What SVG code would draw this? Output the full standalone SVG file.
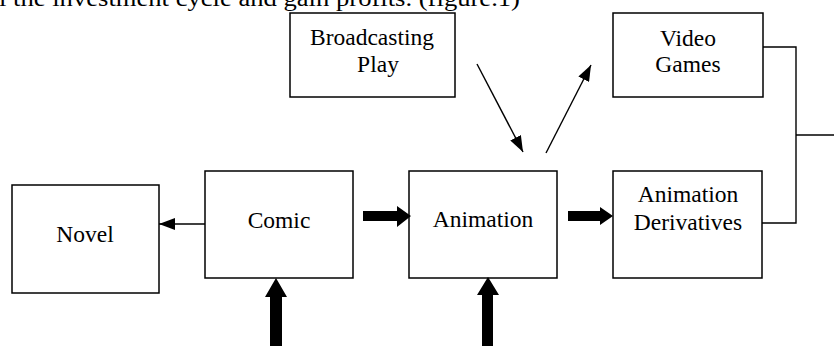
<svg xmlns="http://www.w3.org/2000/svg" width="834" height="346" viewBox="0 0 834 346">
<style>
.box{fill:#fff;stroke:#000;stroke-width:1.5}
.t{font-family:"Liberation Serif","Times New Roman",serif;font-size:23.5px;fill:#000;text-anchor:middle}
.ln{fill:none;stroke:#000;stroke-width:1.4}
.fill{fill:#000;stroke:none}
</style>
<defs>
<marker id="ah" viewBox="0 0 16 12" refX="16" refY="6" markerWidth="16" markerHeight="12" markerUnits="userSpaceOnUse" orient="auto">
<path d="M0,0 L16,6 L0,12 Z" fill="#000"/>
</marker>
</defs>
<rect width="834" height="346" fill="#fff"/>
<text x="-1" y="6" style="font-family:'Liberation Serif','Times New Roman',serif;font-size:23.5px" textLength="521" lengthAdjust="spacingAndGlyphs">l the investment cycle and gain profits. (figure.1)</text>

<g id="broadcasting">
<rect class="box" x="290" y="13" width="165" height="84"/>
<text class="t" x="372" y="45">Broadcasting</text>
<text class="t" x="378" y="72">Play</text>
</g>
<g id="videogames">
<rect class="box" x="613" y="13" width="150" height="84"/>
<text class="t" x="688" y="46">Video</text>
<text class="t" x="688" y="72">Games</text>
</g>
<g id="novel">
<rect class="box" x="12" y="185" width="147" height="108"/>
<text class="t" x="85" y="242">Novel</text>
</g>
<g id="comic">
<rect class="box" x="205" y="171" width="148" height="107"/>
<text class="t" x="279" y="228">Comic</text>
</g>
<g id="animation">
<rect class="box" x="409" y="171" width="148" height="107"/>
<text class="t" x="483" y="227">Animation</text>
</g>
<g id="derivatives">
<rect class="box" x="613" y="171" width="149" height="107"/>
<text class="t" x="688" y="202">Animation</text>
<text class="t" x="688" y="230">Derivatives</text>
</g>

<g id="connectors">
<line class="ln" x1="477" y1="64" x2="523" y2="152" marker-end="url(#ah)"/>
<line class="ln" x1="546" y1="153" x2="591" y2="65" marker-end="url(#ah)"/>
<polyline class="ln" points="763,47 796,47 796,223 762,223"/>
<line class="ln" x1="796" y1="135" x2="834" y2="135"/>
<line class="ln" x1="205" y1="224" x2="159" y2="224" marker-end="url(#ah)"/>
<path class="fill" d="M363,211 L397,211 L397,206 L411,216 L397,227 L397,221 L363,221 Z"/>
<path class="fill" d="M568,211 L600,211 L600,207 L613,216 L600,225 L600,221 L568,221 Z"/>
<path class="fill" d="M270,346 L270,297 L265,297 L276,278 L287,297 L282,297 L282,346 Z"/>
<path class="fill" d="M482,346 L482,295 L477,295 L488,277 L499,295 L493,295 L493,346 Z"/>
</g>
</svg>
